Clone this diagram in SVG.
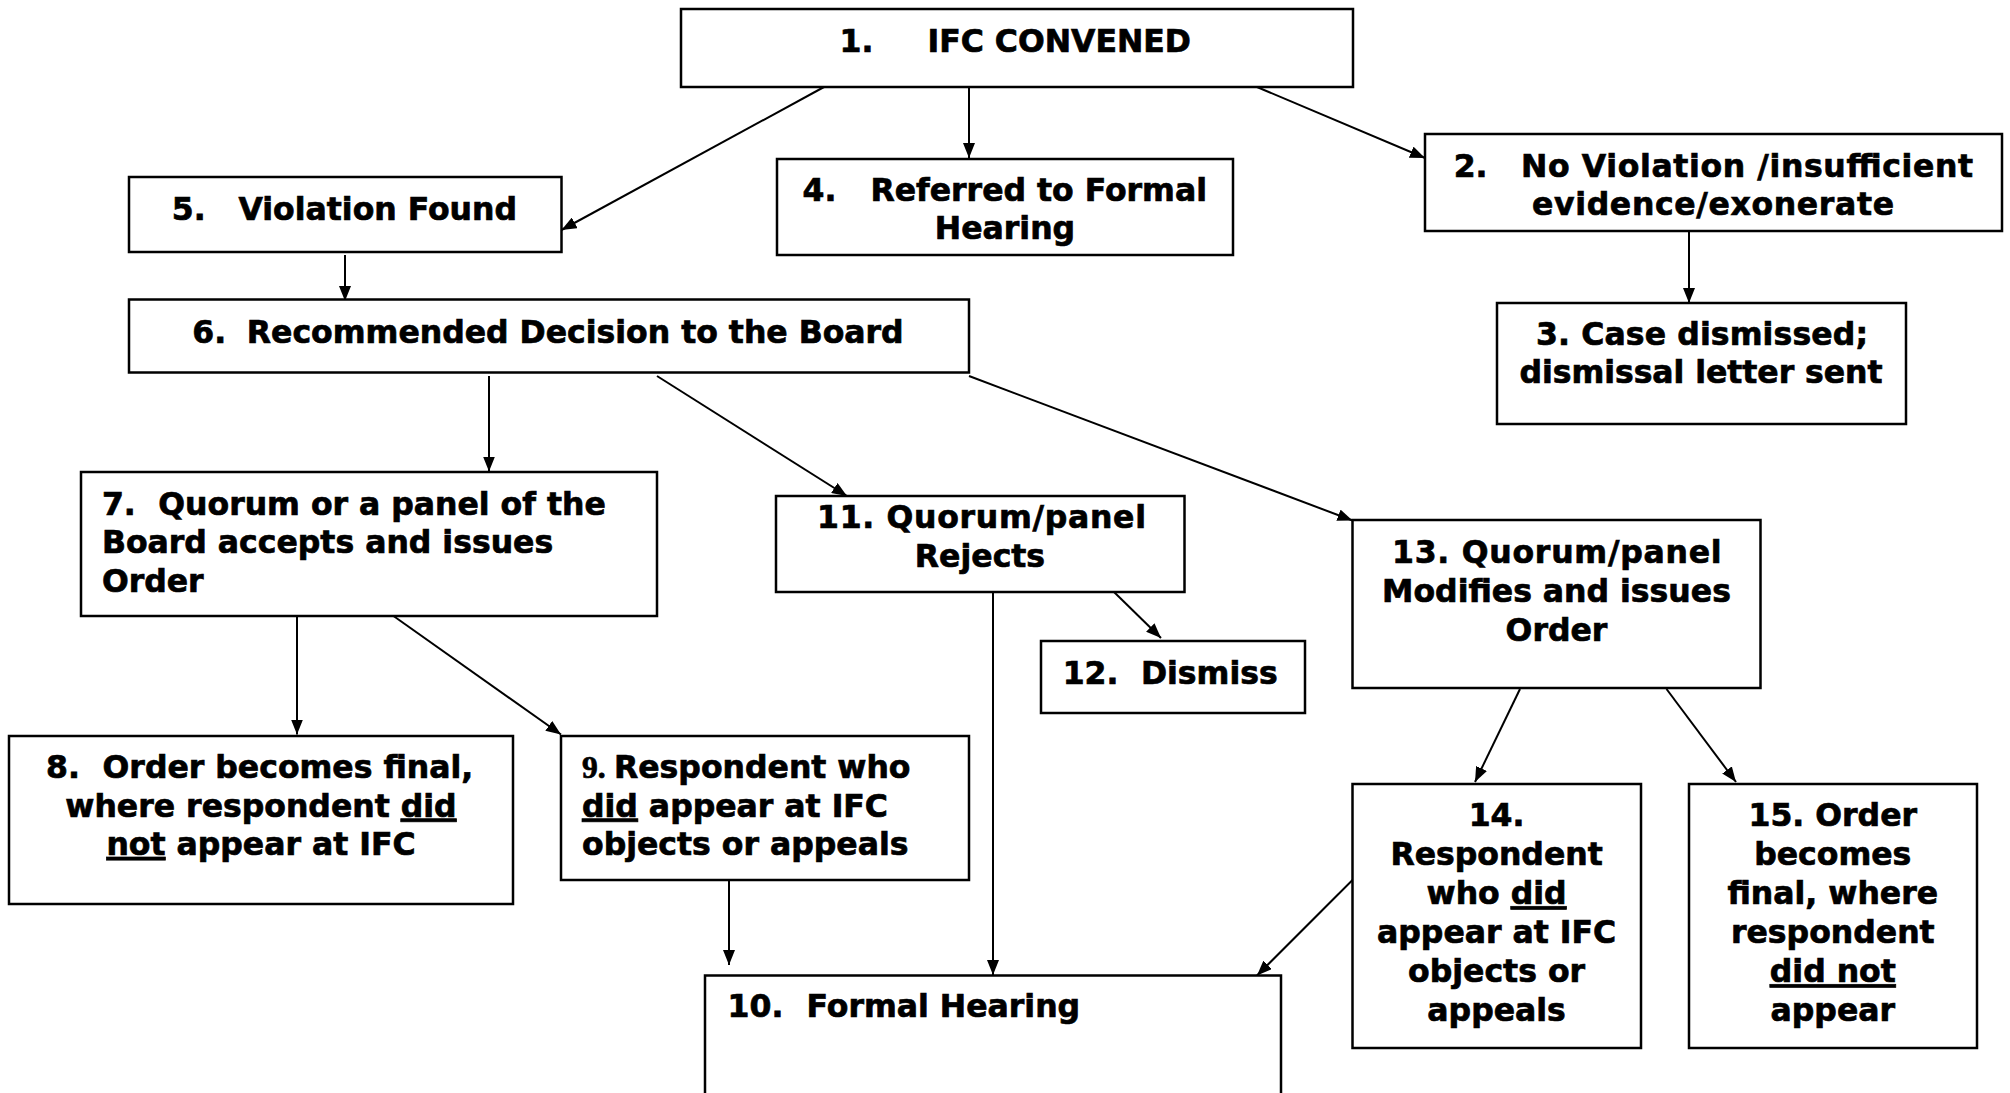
<svg xmlns="http://www.w3.org/2000/svg" width="2010" height="1093" viewBox="0 0 2010 1093">
<defs>
<style>
.box{fill:#fff;stroke:#000;stroke-width:2.5}
.t{font-family:"DejaVu Sans","Verdana",sans-serif;font-weight:bold;font-size:31.5px;fill:#000;stroke:#000;stroke-width:0.7}
.c{text-anchor:middle}
.s{font-family:"Liberation Serif","Times New Roman",serif;font-weight:bold}
.u{text-decoration:underline}
.conn line{stroke:#000;stroke-width:2;marker-end:url(#arr)}
</style>
<marker id="arr" markerUnits="userSpaceOnUse" markerWidth="16" markerHeight="12" refX="15" refY="6" orient="auto">
<path d="M0,0 L15,6 L0,12 z" fill="#000"/>
</marker>
</defs>
<rect width="2010" height="1093" fill="#fff"/>
<g id="connectors" class="conn">
<line x1="824" y1="87" x2="561.5" y2="230"/>
<line x1="969" y1="87" x2="969" y2="158"/>
<line x1="1257" y1="87" x2="1425" y2="158"/>
<line x1="1689" y1="231" x2="1689" y2="303"/>
<line x1="345" y1="255" x2="345" y2="301"/>
<line x1="489" y1="376" x2="489" y2="471.5"/>
<line x1="657" y1="376" x2="847" y2="496"/>
<line x1="969" y1="376" x2="1352.5" y2="520.5"/>
<line x1="1114" y1="592" x2="1161" y2="638"/>
<line x1="993" y1="592" x2="993" y2="975"/>
<line x1="297" y1="616" x2="297" y2="734.5"/>
<line x1="393.5" y1="616" x2="561" y2="734.5"/>
<line x1="729" y1="880" x2="729" y2="965"/>
<line x1="1352.5" y1="880" x2="1257" y2="975.5"/>
<line x1="1520" y1="689" x2="1475" y2="782"/>
<line x1="1666.5" y1="689" x2="1736" y2="782"/>
</g>
<g id="n1"><rect class="box" x="681" y="9" width="672" height="78"/>
<text class="t" y="51.7"><tspan x="839.6">1.</tspan><tspan x="927.5">IFC CONVENED</tspan></text></g>
<g id="n2"><rect class="box" x="1425" y="134" width="577" height="97"/>
<text class="t" x="1453.7" y="176.7">2.</text>
<text class="t" x="1521" y="176.7" textLength="452" lengthAdjust="spacing">No Violation /insufficient</text>
<text class="t c" x="1713" y="215" textLength="362" lengthAdjust="spacing">evidence/exonerate</text></g>
<g id="n3"><rect class="box" x="1497" y="303" width="409" height="121"/>
<text class="t c" x="1702" y="345" textLength="332" lengthAdjust="spacing">3. Case dismissed;</text>
<text class="t c" x="1701" y="383.3" textLength="363" lengthAdjust="spacing">dismissal letter sent</text></g>
<g id="n4"><rect class="box" x="777" y="159" width="456" height="96"/>
<text class="t" y="201"><tspan x="802.5">4.</tspan><tspan x="870.4">Referred to Formal</tspan></text>
<text class="t c" x="1005" y="239.3">Hearing</text></g>
<g id="n5"><rect class="box" x="129" y="177" width="432.5" height="75"/>
<text class="t" y="220"><tspan x="171.8">5.</tspan><tspan x="238.5">Violation Found</tspan></text></g>
<g id="n6"><rect class="box" x="129" y="299.5" width="840" height="73"/>
<text class="t" y="342.7"><tspan x="192.3">6.</tspan><tspan x="246.8">Recommended Decision to the Board</tspan></text></g>
<g id="n7"><rect class="box" x="81" y="472" width="576" height="144"/>
<text class="t" y="515"><tspan x="101.9">7.</tspan><tspan x="158.3">Quorum or a panel of the</tspan></text>
<text class="t" x="101.9" y="553.3">Board accepts and issues</text>
<text class="t" x="101.9" y="591.7">Order</text></g>
<g id="n8"><rect class="box" x="9" y="736" width="504" height="168"/>
<text class="t" y="778.3"><tspan x="46.1">8.</tspan><tspan x="102.6">Order becomes final,</tspan></text>
<text class="t c" x="261" y="816.7">where respondent <tspan class="u">did</tspan></text>
<text class="t c" x="261" y="855"><tspan class="u">not</tspan> appear at IFC</text></g>
<g id="n9"><rect class="box" x="561" y="736" width="408" height="144"/>
<text class="t" y="778.3"><tspan class="s" x="582">9.</tspan><tspan x="614">Respondent who</tspan></text>
<text class="t" x="582" y="816.7"><tspan class="u">did</tspan> appear at IFC</text>
<text class="t" x="582" y="855">objects or appeals</text></g>
<g id="n10"><rect class="box" x="705" y="975.5" width="576" height="140"/>
<text class="t" y="1016.7"><tspan x="727.6">10.</tspan><tspan x="806.6">Formal Hearing</tspan></text></g>
<g id="n11"><rect class="box" x="776" y="496" width="408.5" height="96"/>
<text class="t" x="817" y="528.3" textLength="329" lengthAdjust="spacing">11. Quorum/panel</text>
<text class="t c" x="980" y="566.7">Rejects</text></g>
<g id="n12"><rect class="box" x="1041" y="641" width="264" height="72"/>
<text class="t" y="683.7"><tspan x="1062.7">12.</tspan><tspan x="1140.9">Dismiss</tspan></text></g>
<g id="n13"><rect class="box" x="1352.5" y="520" width="408" height="168"/>
<text class="t" x="1392" y="562.8" textLength="329.6" lengthAdjust="spacing">13. Quorum/panel</text>
<text class="t c" x="1556.5" y="601.7">Modifies and issues</text>
<text class="t c" x="1556.5" y="640.7">Order</text></g>
<g id="n14"><rect class="box" x="1352.5" y="784" width="288.5" height="264"/>
<text class="t c" x="1496.6" y="826.4">14.</text>
<text class="t c" x="1496.6" y="865.4">Respondent</text>
<text class="t c" x="1496.6" y="904.3">who <tspan class="u">did</tspan></text>
<text class="t c" x="1496.6" y="943.3">appear at IFC</text>
<text class="t c" x="1496.6" y="982.3">objects or</text>
<text class="t c" x="1496.6" y="1021">appeals</text></g>
<g id="n15"><rect class="box" x="1689" y="784" width="288" height="264"/>
<text class="t c" x="1832.8" y="826.4">15. Order</text>
<text class="t c" x="1832.8" y="865.4">becomes</text>
<text class="t c" x="1832.8" y="904.3">final, where</text>
<text class="t c" x="1832.8" y="943.3">respondent</text>
<text class="t c" x="1832.8" y="982.3"><tspan class="u">did not</tspan></text>
<text class="t c" x="1832.8" y="1021">appear</text></g>
</svg>
